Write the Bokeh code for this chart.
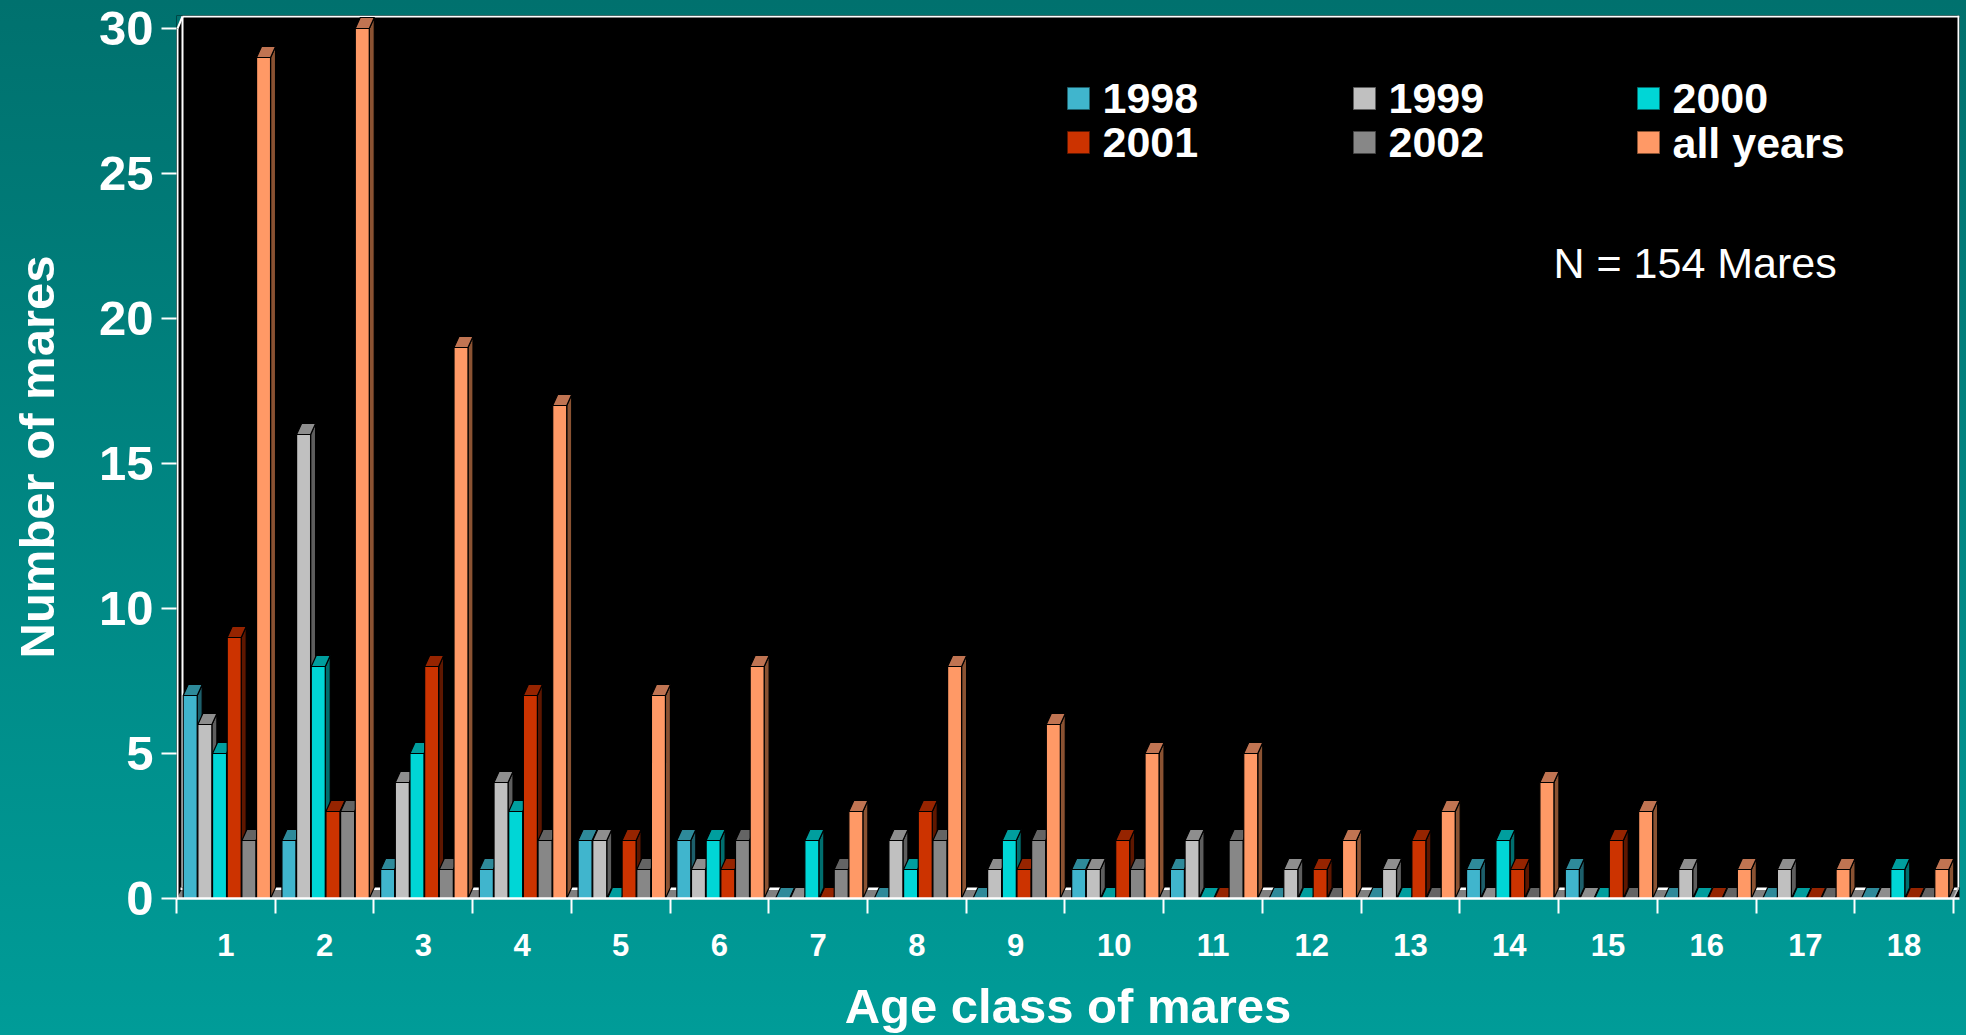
from bokeh.plotting import figure
from bokeh.models import FixedTicker, GlobalInlineStyleSheet
from bokeh.core.properties import value
from bokeh.embed import file_html
from bokeh.resources import INLINE

# ---------------- data ----------------
ages = list(range(1, 19))
age_labels = [str(a) for a in ages]
series_names = ["1998", "1999", "2000", "2001", "2002", "all years"]
v1998 = [7, 2, 1, 1, 2, 2, 0, 0, 0, 1, 1, 0, 0, 1, 1, 0, 0, 0]
v1999 = [6, 16, 4, 4, 2, 1, 0, 2, 1, 1, 2, 1, 1, 0, 0, 1, 1, 0]
v2000 = [5, 8, 5, 3, 0, 2, 2, 1, 2, 0, 0, 0, 0, 2, 0, 0, 0, 1]
v2001 = [9, 3, 8, 7, 2, 1, 0, 3, 1, 2, 0, 1, 2, 1, 2, 0, 0, 0]
v2002 = [2, 3, 1, 2, 1, 2, 1, 2, 2, 1, 2, 0, 0, 0, 0, 0, 0, 0]
v_all = [29, 30, 19, 17, 7, 8, 3, 8, 6, 5, 5, 2, 3, 4, 3, 1, 1, 1]
y_ticks = [0, 5, 10, 15, 20, 25, 30]
note_text = "N = 154 Mares"

series_values = [v1998, v1999, v2000, v2001, v2002, v_all]
# (front, top, side)
series_colors = [
    ("#40B5CD", "#2E8A9A", "#1D5F6B"),
    ("#C0C0C0", "#8E8E8E", "#5E5E5E"),
    ("#00D6D6", "#009E9E", "#006E6E"),
    ("#CC3300", "#962400", "#5E1700"),
    ("#878787", "#646464", "#454545"),
    ("#FF9966", "#C07452", "#8A5232"),
]

# ---------------- geometry ----------------
W, H = 1966, 1035
FL, FR, FT, FB = 176, 7, 15, 137
frame_w = W - FL - FR
frame_h = H - FT - FB
PPX = 98.72
x_start = 0.5
x_end = x_start + frame_w / PPX
PPY = (frame_h - 13) / 30.0
y_end = frame_h / PPY

def px(n):
    return n / PPX

def py(n):
    return n / PPY

def fx(fig_x):
    return x_start + (fig_x - FL) / PPX

def fy(fig_y):
    return (FT + frame_h - fig_y) / PPY

FONT = "Liberation Sans"

p = figure(width=W, height=H, output_backend="svg", toolbar_location=None,
           x_range=(x_start, x_end), y_range=(0, y_end),
           min_border_left=FL, min_border_right=FR,
           min_border_top=FT, min_border_bottom=FB)
p.background_fill_color = "black"
p.border_fill_alpha = 0.0
p.outline_line_color = None
p.xgrid.visible = False
p.ygrid.visible = False
p.stylesheets = [GlobalInlineStyleSheet(css=(
    "html { background: linear-gradient(to bottom, #00716e 0%, #009c98 100%);"
    " min-height: 100%; } body { background: transparent; }"))]

# ---------------- axes ----------------
xa = p.xaxis[0]
xa.ticker = FixedTicker(ticks=ages, minor_ticks=[a - 0.5 for a in ages] + [ages[-1] + 0.5])
xa.major_label_overrides = {a: l for a, l in zip(ages, age_labels)}
xa.major_tick_out = 0
xa.major_tick_in = 0
xa.minor_tick_out = 15
xa.minor_tick_in = 0
xa.minor_tick_line_color = "white"
xa.minor_tick_line_width = 2
xa.axis_line_color = "white"
xa.axis_line_width = 2.5
xa.major_label_text_color = "white"
xa.major_label_text_font = FONT
xa.major_label_text_font_style = "bold"
xa.major_label_text_font_size = "31px"
xa.major_label_standoff = 20
xa.axis_label = "Age class of mares"
xa.axis_label_text_color = "white"
xa.axis_label_text_font = FONT
xa.axis_label_text_font_style = "bold"
xa.axis_label_text_font_size = "49px"
xa.axis_label_standoff = 20

ya = p.yaxis[0]
ya.ticker = FixedTicker(ticks=y_ticks, minor_ticks=[])
ya.major_tick_out = 15
ya.major_tick_in = 0
ya.major_tick_line_color = "white"
ya.major_tick_line_width = 2
ya.minor_tick_line_color = None
ya.axis_line_color = None
ya.major_label_text_color = "white"
ya.major_label_text_font = FONT
ya.major_label_text_font_style = "bold"
ya.major_label_text_font_size = "49px"
ya.major_label_standoff = 8
ya.axis_label = "Number of mares"
ya.axis_label_text_color = "white"
ya.axis_label_text_font = FONT
ya.axis_label_text_font_style = "bold"
ya.axis_label_text_font_size = "49px"
ya.axis_label_standoff = 32

# ---------------- 3D frame (walls / floor) ----------------
WDX, WDY = px(6), py(13)
DX, DY = px(5), py(11)
cat_end = ages[-1] + 0.5
# floor (gray slab with light back edge), covered by bars where they stand
p.patch([x_start, cat_end, cat_end + DX, x_start + DX],
        [0, 0, DY - py(2.5), DY - py(2.5)], fill_color="#808080", line_color=None)
p.patch([x_start + DX - px(1), cat_end + DX, cat_end + DX, x_start + DX - px(1)],
        [DY - py(2.5), DY - py(2.5), DY, DY], fill_color="white", line_color=None)
# teal corner above the left-wall diagonal
p.patch([x_start, x_start, x_start + WDX], [30, y_end, y_end],
        fill_color="#00726f", line_color=None)
# y axis line + diagonal, back wall edges
p.line([x_start + px(1), x_start + px(1)], [0, 30], line_color="white", line_width=2)
p.line([x_start + px(1), x_start + WDX], [30, y_end - py(1)], line_color="white", line_width=2)
p.line([x_start + WDX, x_start + WDX], [DY, y_end - py(1)], line_color="white", line_width=2)
p.line([x_start + WDX, x_end], [y_end - py(1), y_end - py(1)], line_color="white", line_width=2)
p.line([x_end - px(1), x_end - px(1)], [DY, y_end], line_color="white", line_width=2)
p.line([cat_end, cat_end + DX], [0, DY], line_color="#c0c0c0", line_width=1.5)

# ---------------- 3D bars ----------------
OFF0 = px(6.7)
PITCH = px(14.67)
BW = px(14.0)

xs, ys, fills = [], [], []
for ci, age in enumerate(ages):
    left = age - 0.5
    for j, (vals, cols) in enumerate(zip(series_values, series_colors)):
        v = vals[ci]
        front, top, side = cols
        xl = left + OFF0 + j * PITCH
        xr = xl + BW
        if v > 0:
            xs.append([xr, xr + DX, xr + DX, xr])
            ys.append([0, DY, v + DY, v])
            fills.append(side)
        xs.append([xl, xr, xr + DX, xl + DX])
        ys.append([v, v, v + DY, v + DY])
        fills.append(top)
        if v > 0:
            xs.append([xl, xr, xr, xl])
            ys.append([0, 0, v, v])
            fills.append(front)

p.patches(xs, ys, fill_color=fills, line_color="black", line_width=1.2)

# ---------------- legend ----------------
leg_sq_left = [1067, 1353, 1637]
leg_rows = [98, 142]
lx, ly, lt, lc, lcl = [], [], [], [], []
for k, name in enumerate(series_names):
    r, c = divmod(k, 3)
    lx.append(fx(leg_sq_left[c] + 11))
    ly.append(fy(leg_rows[r]))
    lc.append(series_colors[k][0])
    lcl.append(series_colors[k][2])
    lt.append(name)
p.rect(lx, ly, width=22, height=22, width_units="screen", height_units="screen",
       fill_color=lc, line_color=lcl, line_width=1)
p.text([x + px(24) for x in lx], ly, text=lt, text_color="white",
       text_font=value(FONT), text_font_style="bold", text_font_size="43px",
       text_baseline="middle", text_align="left")

p.text([fx(1553)], [fy(262)], text=[note_text], text_color="white",
       text_font=value(FONT), text_font_size="43px",
       text_baseline="middle", text_align="left")

open("out.html", "w").write(file_html(p, INLINE))
